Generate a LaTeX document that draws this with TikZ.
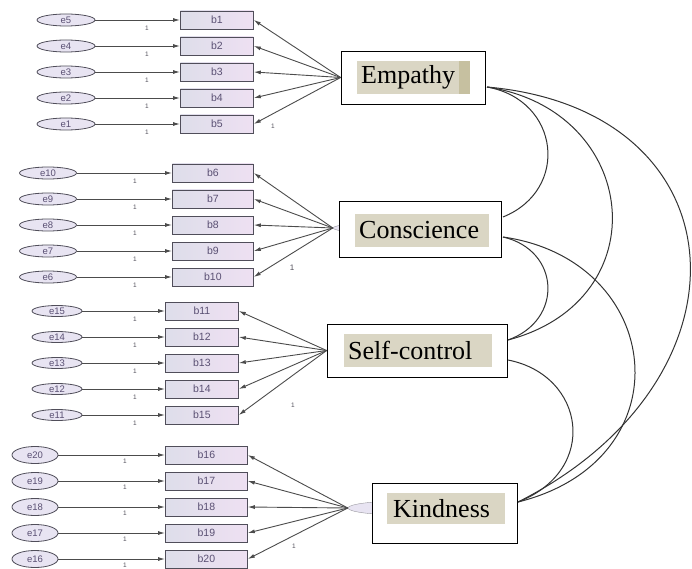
\documentclass[tikz,border=0pt]{standalone}
\usepackage{fontspec}
\setmainfont{Liberation Serif}
\newfontfamily\amosfont{Liberation Sans}
\usetikzlibrary{arrows.meta,shapes.geometric}

\definecolor{lila}{RGB}{232,228,242}
\definecolor{cinza}{RGB}{80,78,90}
\definecolor{boxl}{RGB}{222,222,234}
\definecolor{boxr}{RGB}{238,224,242}
\definecolor{bege}{RGB}{218,214,196}
\definecolor{begeesc}{RGB}{198,192,160}
\definecolor{rotulo}{RGB}{90,80,115}

\begin{document}
\begin{tikzpicture}[x=1pt,y=-1pt,
    erro/.style={ellipse, draw=cinza, fill=lila, line width=0.8pt, inner sep=0pt, font=\amosfont\fontsize{9.5}{9.5}\selectfont, text=rotulo},
    item/.style={rectangle, draw=cinza, line width=0.8pt, left color=boxl, right color=boxr, minimum height=18pt, inner sep=0pt, font=\amosfont\fontsize{10.5}{10.5}\selectfont, text=rotulo},
    fator/.style={rectangle, draw=black, fill=white, line width=0.8pt, inner sep=0pt},
    nome/.style={fill=bege, inner xsep=4pt, inner ysep=0pt, minimum height=33pt, anchor=west, align=left, font=\fontsize{26}{30}\selectfont},
    um/.style={font=\amosfont\fontsize{6.5}{6.5}\selectfont, text=cinza, inner sep=1pt},
    seta/.style={-{Latex[length=7pt,width=4pt]}, draw=black!70, line width=0.9pt},
    cov/.style={draw=black!80, line width=1pt}
]
    \useasboundingbox (0,0) rectangle (692,569);

    % Variaveis latentes (por tras das caixas)
    \node[ellipse, fill=lila, draw=cinza!60, minimum width=96pt, minimum height=10pt] (l2) at (381,228) {};
    \node[ellipse, fill=lila, draw=cinza!60, minimum width=110pt, minimum height=14pt] (l4) at (403,508) {};

    % Erros e itens
    \foreach \g/\yo/\ex/\ew/\eh/\bl/\bw/\ux/\uy in {0/20/66/58/12/180/73/147/8, 1/173/48/57/12/172/81/135/8, 2/311/57/50/11/165/73/135/8, 3/455/35/46/17/165/82/125/6} {
        \foreach \r in {0,...,4} {
            \pgfmathtruncatemacro{\bi}{5*\g+\r+1}
            \pgfmathtruncatemacro{\ei}{5*\g+5-\r}
            \pgfmathsetmacro{\yy}{\yo+26*\r}
            \node[erro, minimum width=\ew pt, minimum height=\eh pt] (e\ei) at (\ex,\yy) {e\ei};
            \node[item, minimum width=\bw pt, anchor=west] (b\bi) at (\bl,\yy) {b\bi};
            \draw[seta] (e\ei) -- (b\bi);
            \node[um] (u\bi) at (\ux,\yy+\uy) {1};
        }
    }

    % Fatores
    \node[fator, minimum width=144pt, minimum height=53pt] (empathy) at (413,77.5) {};
    \node[nome, text width=105pt] (empathy-t) at (357,77.5) {Empathy};
    \fill[begeesc] (459,61) rectangle (470,94);

    \node[fator, minimum width=162pt, minimum height=56pt] (conscience) at (420,229) {};
    \node[nome, text width=126pt] (conscience-t) at (355,230) {Conscience};

    \node[fator, minimum width=180pt, minimum height=53pt] (selfcontrol) at (417,350.5) {};
    \node[nome, text width=140pt] (selfcontrol-t) at (344,350.5) {Self-control};

    \node[fator, minimum width=145pt, minimum height=60pt] (kindness) at (444.5,513) {};
    \node[nome, text width=106pt, minimum height=31pt, inner xsep=6pt] (kindness-t) at (387,508.5) {Kindness};

    % Cargas fatoriais
    \foreach \i in {1,...,5} \draw[seta] (empathy.west) -- (b\i.east);
    \foreach \i in {6,...,10} \draw[seta] (l2.west) -- (b\i.east);
    \foreach \i in {11,...,15} \draw[seta] (selfcontrol.west) -- (b\i.east);
    \foreach \i in {16,...,20} \draw[seta] (l4.west) -- (b\i.east);

    \node[um] (c1) at (273,126) {1};
    \node[um, font=\amosfont\fontsize{8}{8}\selectfont] (c2) at (292,268) {1};
    \node[um] (c3) at (293,405) {1};
    \node[um] (c4) at (294,546) {1};

    % Covariancias
    \coordinate (empR) at (487,87);
    \coordinate (conR1) at (503,217);
    \coordinate (conR2) at (503,237);
    \coordinate (selR1) at (508,340);
    \coordinate (selR2) at (508,360);
    \coordinate (kinR) at (518,502);
    \draw[cov] (empR) .. controls (560,100) and (570,190) .. (conR1);
    \draw[cov] (empR) .. controls (640,110) and (660,300) .. (selR1);
    \draw[cov] (empR) .. controls (745,110) and (760,380) .. (kinR);
    \draw[cov] (conR2) .. controls (560,250) and (564,320) .. (selR1);
    \draw[cov] (conR2) .. controls (665,260) and (687,460) .. (kinR);
    \draw[cov] (selR2) .. controls (585,375) and (600,470) .. (kinR);

\end{tikzpicture}
\end{document}
